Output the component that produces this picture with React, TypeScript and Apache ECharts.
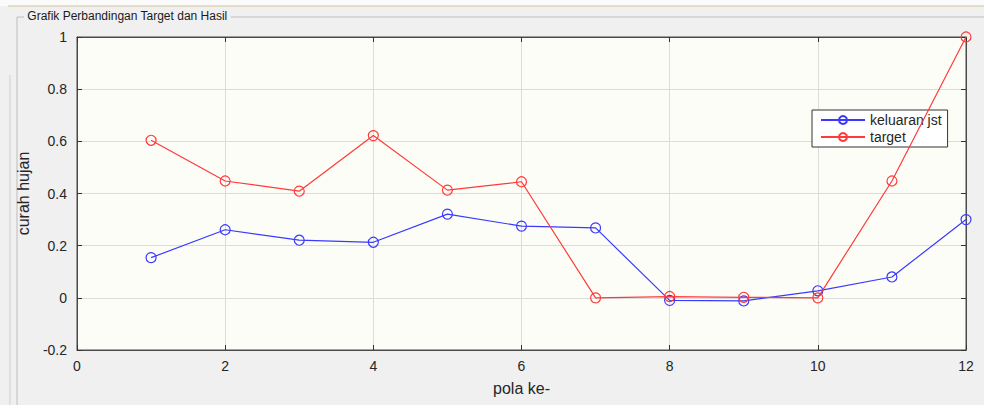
import React, { useEffect, useRef } from "react";
import * as echarts from "echarts";

const xCategories = [1, 2, 3, 4, 5, 6, 7, 8, 9, 10, 11, 12];
const keluaranJst = [0.154, 0.261, 0.221, 0.213, 0.321, 0.275, 0.268, -0.01, -0.012, 0.027, 0.08, 0.3];
const targetValues = [0.604, 0.448, 0.409, 0.622, 0.413, 0.445, 0.0, 0.005, 0.002, 0.0, 0.448, 1.0];
const seriesNames = ["keluaran jst", "target"];
const titleText = "Grafik Perbandingan Target dan Hasil";
const xAxisName = "pola ke-";
const yAxisName = "curah hujan";

const FONT = "'Liberation Sans', Arial, sans-serif";

export default function App() {
  const ref = useRef<HTMLDivElement>(null);
  useEffect(() => {
    document.body.style.margin = "0";
    const chart = echarts.init(ref.current!, null, { renderer: "svg" });
    const axisLineStyle = { color: "#4a4a4a", width: 1 };
    const tickStyle = { show: true, inside: true, length: 5, lineStyle: { color: "#333" } };
    const splitStyle = { show: true, lineStyle: { color: "#dcdcdc", width: 1 } };
    const labelStyle = { color: "#262626", fontSize: 14, fontFamily: FONT };
    chart.setOption({
      animation: false,
      backgroundColor: "#f0f0f0",
      grid: {
        left: 77,
        right: 18,
        top: 37,
        bottom: 55,
        show: true,
        backgroundColor: "#fdfdf8",
        borderColor: "#4a4a4a",
        borderWidth: 1,
      },
      xAxis: [
        {
          type: "value",
          min: 0,
          max: 12,
          interval: 2,
          position: "bottom",
          axisLine: { show: true, onZero: false, lineStyle: axisLineStyle },
          axisTick: tickStyle,
          splitLine: splitStyle,
          axisLabel: { ...labelStyle, margin: 9 },
          name: xAxisName,
          nameLocation: "middle",
          nameGap: 30,
          nameTextStyle: { color: "#262626", fontSize: 16, fontFamily: FONT },
        },
        {
          type: "value",
          min: 0,
          max: 12,
          interval: 2,
          position: "top",
          axisLine: { show: true, onZero: false, lineStyle: axisLineStyle },
          axisTick: tickStyle,
          splitLine: { show: false },
          axisLabel: { show: false },
        },
      ],
      yAxis: [
        {
          type: "value",
          min: -0.2,
          max: 1,
          interval: 0.2,
          position: "left",
          axisLine: { show: true, onZero: false, lineStyle: axisLineStyle },
          axisTick: tickStyle,
          splitLine: splitStyle,
          axisLabel: {
            ...labelStyle,
            margin: 10,
            formatter: (v: number) => String(Math.round(v * 10) / 10),
          },
          name: yAxisName,
          nameLocation: "middle",
          nameGap: 35,
          nameRotate: 90,
          nameTextStyle: { color: "#262626", fontSize: 16, fontFamily: FONT },
        },
        {
          type: "value",
          min: -0.2,
          max: 1,
          interval: 0.2,
          position: "right",
          axisLine: { show: true, onZero: false, lineStyle: axisLineStyle },
          axisTick: tickStyle,
          splitLine: { show: false },
          axisLabel: { show: false },
        },
      ],
      legend: {
        orient: "vertical",
        left: 812,
        top: 110,
        backgroundColor: "#ffffff",
        borderColor: "#333333",
        borderWidth: 1,
        borderRadius: 0,
        padding: [3, 6, 3, 8],
        itemGap: 3,
        itemWidth: 44,
        itemHeight: 10,
        textStyle: { color: "#262626", fontSize: 14, fontFamily: FONT },
        data: seriesNames,
      },
      graphic: [
        { type: "rect", shape: { x: 0, y: 0, width: 984, height: 6 }, style: { fill: "#fafafa" }, silent: true },
        { type: "line", shape: { x1: 8, y1: 6, x2: 984, y2: 6 }, style: { stroke: "#d6c49a", lineWidth: 1 }, silent: true },
        { type: "line", shape: { x1: 17, y1: 17, x2: 984, y2: 17 }, style: { stroke: "#bdbdbd", lineWidth: 1 }, silent: true },
        { type: "line", shape: { x1: 17, y1: 17, x2: 17, y2: 405 }, style: { stroke: "#bdbdbd", lineWidth: 1 }, silent: true },
        { type: "line", shape: { x1: 10, y1: 75, x2: 10, y2: 405 }, style: { stroke: "#cfcfcf", lineWidth: 1 }, silent: true },
        {
          type: "text",
          left: 24,
          top: 10,
          style: {
            text: " " + titleText + " ",
            fill: "#1a1a1a",
            font: `12px ${FONT}`,
            backgroundColor: "#f0f0f0",
          },
          silent: true,
        },
      ],
      series: [
        {
          name: seriesNames[0],
          type: "line",
          xAxisIndex: 0,
          yAxisIndex: 0,
          data: xCategories.map((x, i) => [x, keluaranJst[i]]),
          symbol: "circle",
          symbolSize: 10,
          lineStyle: { color: "#3a3aff", width: 1.2 },
          itemStyle: { color: "rgba(0,0,0,0)", borderColor: "#3a3aff", borderWidth: 1.2 },
          z: 3,
        },
        {
          name: seriesNames[1],
          type: "line",
          xAxisIndex: 0,
          yAxisIndex: 0,
          data: xCategories.map((x, i) => [x, targetValues[i]]),
          symbol: "circle",
          symbolSize: 10,
          lineStyle: { color: "#ff3a3a", width: 1.2 },
          itemStyle: { color: "rgba(0,0,0,0)", borderColor: "#ff3a3a", borderWidth: 1.2 },
          z: 4,
        },
      ],
    });
    return () => chart.dispose();
  }, []);
  return <div ref={ref} style={{ width: 984, height: 405 }} />;
}
